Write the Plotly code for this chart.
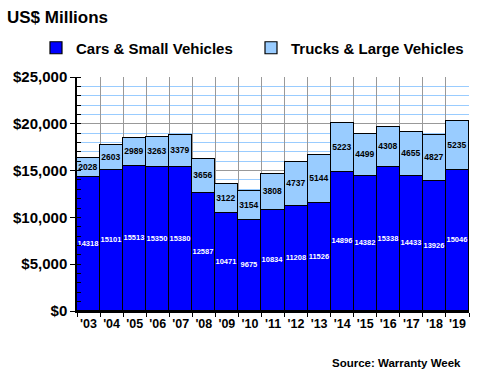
import plotly.graph_objects as go

years = ["'03", "'04", "'05", "'06", "'07", "'08", "'09", "'10", "'11", "'12",
         "'13", "'14", "'15", "'16", "'17", "'18", "'19"]
cars = [14318, 15101, 15513, 15350, 15380, 12587, 10471, 9675, 10834, 11208,
        11526, 14896, 14382, 15338, 14433, 13926, 15046]
trucks = [2028, 2603, 2989, 3263, 3379, 3656, 3122, 3154, 3808, 4737,
          5144, 5223, 4499, 4308, 4655, 4827, 5235]

FONT = "Arial, Liberation Sans, sans-serif"
L, R, T, B = 77, 11, 77, 69
W, H = 480, 380
pw, ph = W - L - R, H - T - B

fig = go.Figure()
fig.add_trace(go.Bar(
    x=years, y=cars, name="Cars & Small Vehicles",
    marker=dict(color="#0000FF", line=dict(color="black", width=1.2)),
    texttemplate="%{y:d}", textposition="inside", insidetextanchor="middle",
    constraintext="none", textangle=0,
    textfont=dict(family=FONT, size=7.5, color="white", weight="bold"),
))
fig.add_trace(go.Bar(
    x=years, y=trucks, name="Trucks & Large Vehicles",
    marker=dict(color="#99CCFF", line=dict(color="black", width=1.2)),
    texttemplate="%{y:d}", textposition="inside", insidetextanchor="middle",
    constraintext="none", textangle=0,
    textfont=dict(family=FONT, size=8.5, color="black", weight="bold"),
))

fig.update_layout(
    width=W, height=H,
    margin=dict(l=L, r=R, t=T, b=B, autoexpand=False),
    barmode="stack", bargap=0,
    plot_bgcolor="white", paper_bgcolor="white",
    font=dict(family=FONT, color="black"),
    title=dict(text="US$ Millions", x=7 / W, xanchor="left", xref="container",
               y=1 - 17 / H, yref="container", yanchor="middle",
               font=dict(family=FONT, size=17, weight="bold", color="black")),
    legend=dict(orientation="h", x=(36 - L) / pw, xanchor="left",
                y=(ph + T - 48) / ph, yanchor="middle",
                entrywidth=170, traceorder="normal",
                font=dict(family=FONT, size=15, weight="bold", color="black"),
                bgcolor="rgba(0,0,0,0)"),
    showlegend=True,
    xaxis=dict(tickson="boundaries", showgrid=True, gridcolor="#999999",
               gridwidth=1, showline=True, linecolor="black", linewidth=1.5,
               ticks="outside", ticklen=4, tickcolor="black", tickangle=0,
               automargin=False,
               tickfont=dict(family=FONT, size=12.5, weight="bold", color="black")),
    yaxis=dict(range=[0, 25000], dtick=5000, tickprefix="$", tickformat=",d",
               showgrid=True, gridcolor="#999999", gridwidth=1,
               showline=True, linecolor="black", linewidth=1.5,
               ticks="outside", ticklen=5, tickcolor="black",
               zeroline=False, automargin=False,
               minor=dict(dtick=1000, showgrid=True, gridcolor="#99CCFF",
                          gridwidth=1, ticks="inside", ticklen=4,
                          tickcolor="black"),
               tickfont=dict(family=FONT, size=15, weight="bold", color="black")),
    annotations=[dict(text="Source: Warranty Week", xref="paper", yref="paper",
                      x=(463 - L) / pw, xanchor="right",
                      y=(T + ph - 363) / ph, yanchor="middle", showarrow=False,
                      font=dict(family=FONT, size=11.5, weight="bold", color="black"))],
)

fig.write_html("out.html", config={"displayModeBar": False},
               post_script="document.body.style.margin='0';document.body.style.overflow='hidden';")
